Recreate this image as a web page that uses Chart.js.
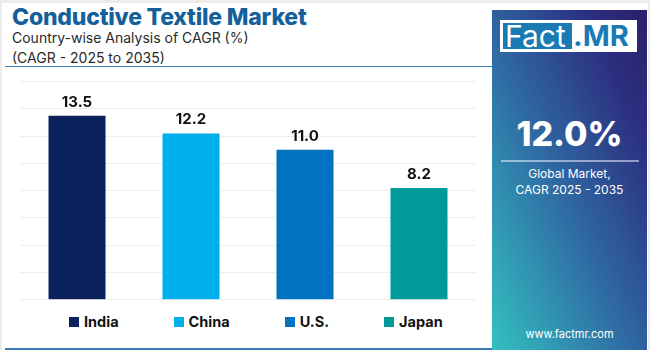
<!DOCTYPE html>
<html lang="en">
  <head>
    <meta charset="UTF-8" />
    <title>Conductive Textile Market</title>
    <script src="https://cdn.jsdelivr.net/npm/chart.js"></script>
    <style>
      body {
        margin: 0;
        width: 650px;
        height: 350px;
        background-color: #ececec;
        font-family: Inter, "Open Sans", sans-serif;
        overflow: hidden;
      }
      .card {
        position: absolute;
        left: 2px;
        top: 3px;
        width: 646px;
        height: 347px;
        background: #ffffff;
      }
      h1 {
        position: absolute;
        left: 12px;
        top: 3px;
        margin: 0;
        font-size: 23px;
        font-weight: 800;
        color: #14609a;
        letter-spacing: -0.2px;
      }
      .sub {
        position: absolute;
        left: 12px;
        top: 28px;
        font-size: 14px;
        line-height: 20px;
        color: #2a2a2a;
      }
      .rule {
        position: absolute;
        left: 5px;
        width: 487px;
        height: 1px;
        background: #3b7db8;
      }
      .chart-box {
        position: absolute;
        left: 0;
        top: 60px;
        width: 490px;
        height: 250px;
      }
      .legend {
        position: absolute;
        top: 313px;
        left: 69px;
        display: flex;
        font-weight: 700;
        font-size: 14.5px;
        color: #111;
      }
      .legend span.item {
        display: flex;
        align-items: center;
        margin-right: 55px;
      }
      .legend i {
        display: inline-block;
        width: 10px;
        height: 10px;
        margin-right: 5px;
      }
      .panel {
        position: absolute;
        left: 492px;
        top: 10px;
        width: 155px;
        height: 340px;
        background: linear-gradient(to top right, #33c1c0 0%, #2f6aa4 45%, #2c2f80 80%, #2b1f6c 100%);
        color: #fff;
        text-align: center;
      }
      .logo {
        position: absolute;
        left: 8px;
        top: 10px;
        width: 137px;
        height: 32px;
        background: #fff;
      }
      .logo .fact {
        position: absolute;
        left: 3px;
        top: 3px;
        width: 69px;
        height: 26px;
        background: #1a7bb4;
        color: #fff;
        font-size: 30px;
        line-height: 26px;
        font-weight: 400;
        text-align: left;
        padding-left: 2px;
        box-sizing: border-box;
      }
      .logo .mr {
        position: absolute;
        left: 73px;
        top: 3px;
        color: #1a7bb4;
        font-size: 29px;
        line-height: 26px;
        font-weight: 700;
      }
      .big {
        position: absolute;
        left: 0;
        width: 155px;
        top: 103px;
        font-size: 34px;
        font-weight: 800;
      }
      .line {
        position: absolute;
        left: 9px;
        width: 138px;
        top: 150px;
        height: 2px;
        background: rgba(255, 255, 255, 0.5);
      }
      .note {
        position: absolute;
        left: 0;
        width: 155px;
        top: 156px;
        font-size: 12px;
        line-height: 16px;
      }
      .url {
        position: absolute;
        left: 0;
        width: 155px;
        top: 317px;
        font-size: 11px;
      }
    </style>
  </head>
  <body>
    <div class="card"></div>
    <h1>Conductive Textile Market</h1>
    <div class="sub">Country-wise Analysis of CAGR (%)<br />(CAGR - 2025 to 2035)</div>
    <div class="rule" style="top: 66px"></div>
    <div class="rule" style="top: 348px; height: 2px"></div>

    <div class="chart-box">
      <canvas id="cagrChart"></canvas>
    </div>
    <div class="legend" id="legend"></div>

    <div class="panel">
      <div class="logo">
        <div class="fact">Fact</div>
        <div class="mr">.MR</div>
      </div>
      <div class="big">12.0%</div>
      <div class="line"></div>
      <div class="note">Global Market,<br />CAGR 2025 - 2035</div>
      <div class="url">www.factmr.com</div>
    </div>

    <script>
      const countries = ["India", "China", "U.S.", "Japan"];
      const cagr = [13.5, 12.2, 11.0, 8.2];
      const barColors = ["#0b215e", "#00b0ec", "#0072c1", "#009a9a"];

      // legend built from the same arrays
      const legend = document.getElementById("legend");
      countries.forEach((name, i) => {
        const item = document.createElement("span");
        item.className = "item";
        item.innerHTML = '<i style="background:' + barColors[i] + '"></i>' + name;
        legend.appendChild(item);
      });

      // value labels above each bar
      const valueLabels = {
        id: "valueLabels",
        afterDatasetsDraw(chart) {
          const ctx = chart.ctx;
          const meta = chart.getDatasetMeta(0);
          ctx.save();
          ctx.font = "700 15px Inter, sans-serif";
          ctx.fillStyle = "#111";
          ctx.textAlign = "center";
          ctx.textBaseline = "alphabetic";
          meta.data.forEach((bar, i) => {
            ctx.fillText(cagr[i].toFixed(1), bar.x, bar.y - 9);
          });
          ctx.restore();
        },
      };

      const ctx = document.getElementById("cagrChart").getContext("2d");
      new Chart(ctx, {
        type: "bar",
        data: {
          labels: countries,
          datasets: [
            {
              data: cagr,
              backgroundColor: barColors,
              barPercentage: 0.5,
              categoryPercentage: 1,
            },
          ],
        },
        options: {
          responsive: true,
          maintainAspectRatio: false,
          animation: false,
          layout: { padding: { left: 20, right: 14, top: 21.7, bottom: 10.3 } },
          plugins: { legend: { display: false }, tooltip: { enabled: false } },
          scales: {
            x: { display: false },
            y: {
              min: 0,
              max: 16,
              ticks: { display: false, stepSize: 2 },
              grid: { color: "#eeeeee", drawTicks: false },
              border: { display: false },
            },
          },
        },
        plugins: [valueLabels],
      });
    </script>
  </body>
</html>
